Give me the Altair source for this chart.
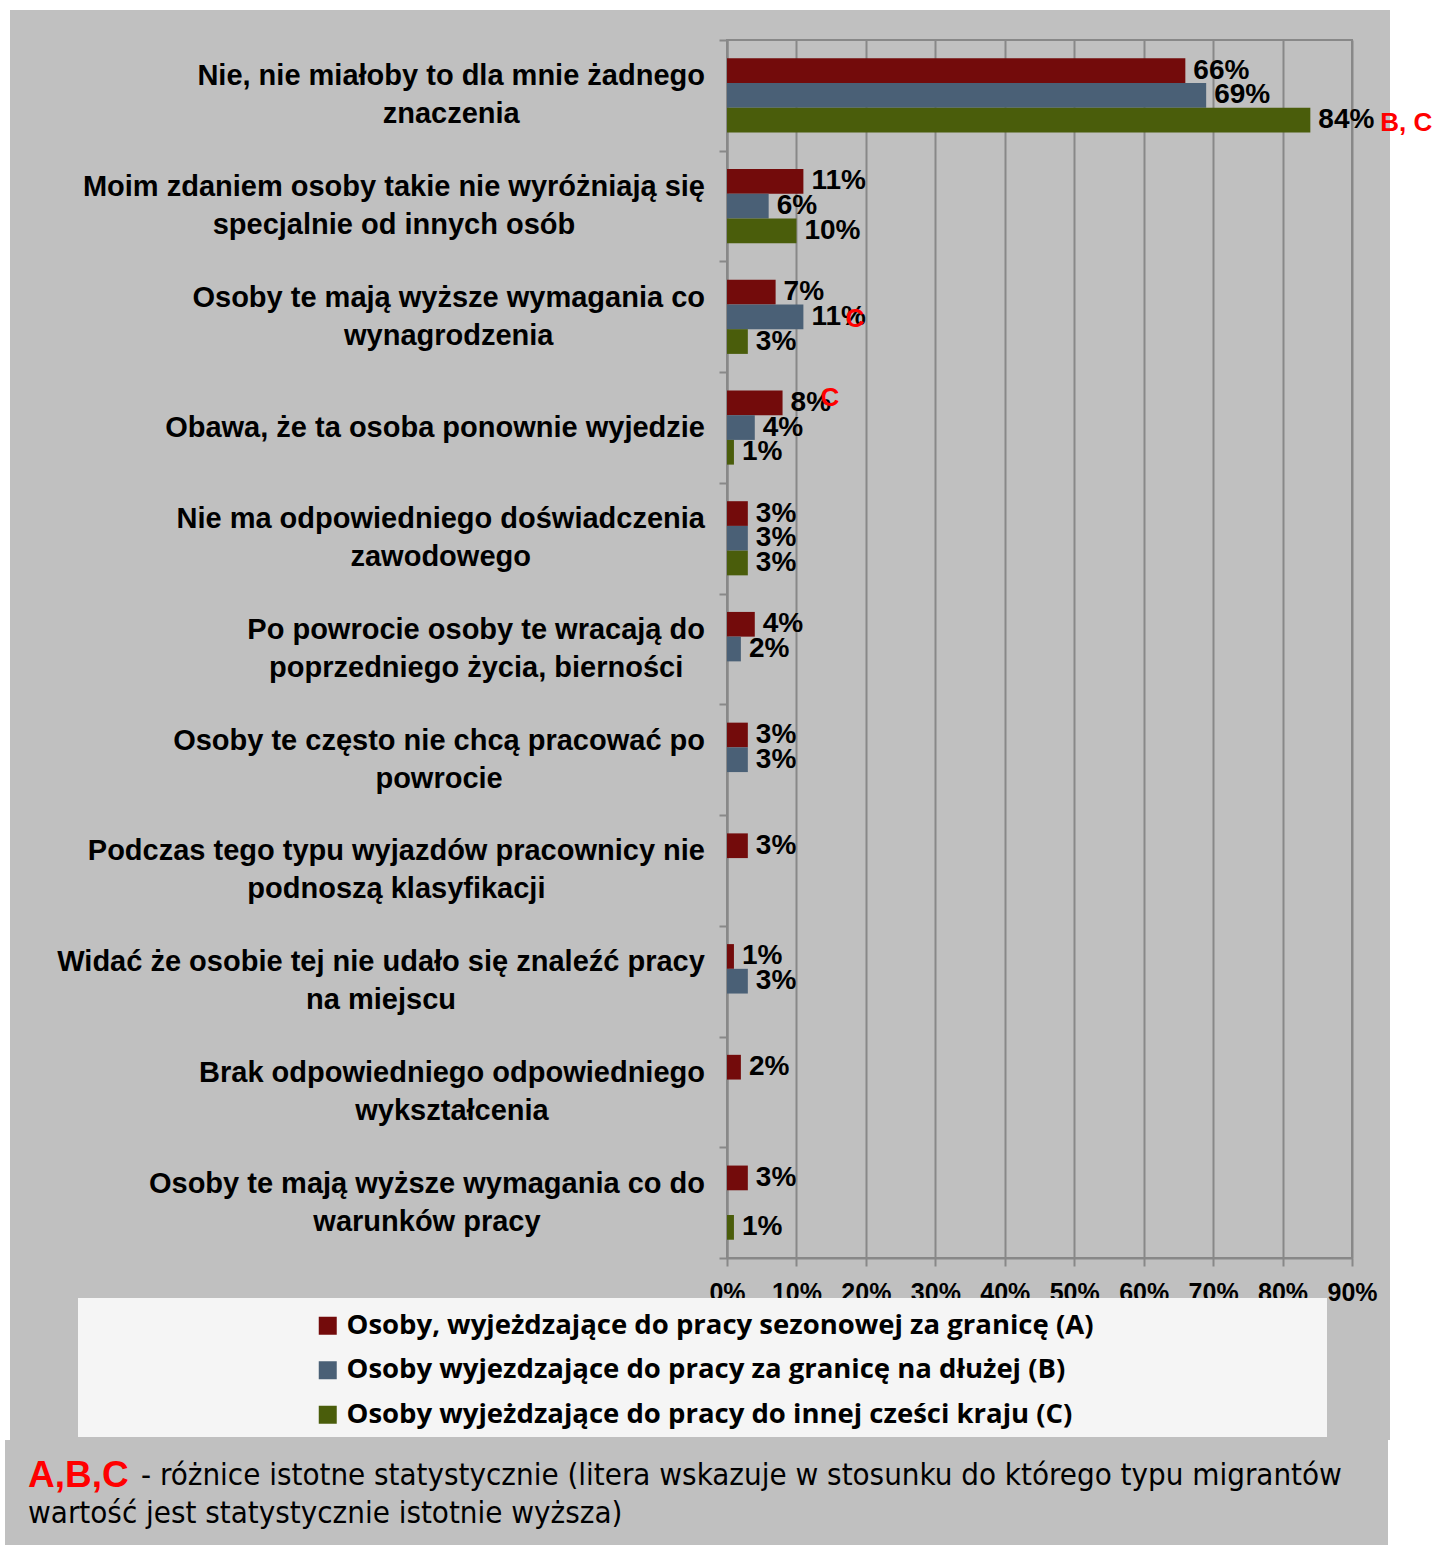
import altair as alt
import pandas as pd

categories = [
    "Nie, nie miałoby to dla mnie żadnego\nznaczenia",
    "Moim zdaniem osoby takie nie wyróżniają się\nspecjalnie od innych osób",
    "Osoby te mają wyższe wymagania co\nwynagrodzenia",
    "Obawa, że ta osoba ponownie wyjedzie",
    "Nie ma odpowiedniego doświadczenia\nzawodowego",
    "Po powrocie osoby te wracają do\npoprzedniego życia, bierności",
    "Osoby te często nie chcą pracować po\npowrocie",
    "Podczas tego typu wyjazdów pracownicy nie\npodnoszą klasyfikacji",
    "Widać że osobie tej nie udało się znaleźć pracy\nna miejscu",
    "Brak odpowiedniego odpowiedniego\nwykształcenia",
    "Osoby te mają wyższe wymagania co do\nwarunków pracy",
]
series = [
    "Osoby, wyjeżdzające do pracy sezonowej za granicę (A)",
    "Osoby wyjezdzające do pracy za granicę na dłużej (B)",
    "Osoby wyjeżdzające do pracy do innej cześci kraju (C)",
]
values_A = [66, 11, 7, 8, 3, 4, 3, 3, 1, 2, 3]
values_B = [69, 6, 11, 4, 3, 2, 3, None, 3, None, None]
values_C = [84, 10, 3, 1, 3, None, None, None, None, None, 1]
# significance annotations: (category index, series index, text)
annotations = [(0, 2, "B, C"), (2, 1, "C"), (3, 0, "C")]
x_ticks = [0, 10, 20, 30, 40, 50, 60, 70, 80, 90]
colors = ["#730b0b", "#4a6076", "#4a5d0b"]
footer_key = "A,B,C"
footer_line1 = "- różnice istotne statystycznie (litera wskazuje w stosunku do którego typu migrantów"
footer_line2 = "wartość jest statystycznie istotnie wyższa)"

# ---------------------------------------------------------------- helpers
# Arial/Liberation Sans Bold advance widths (1/1000 em) used to centre the
# multi-line category labels the way the original does.
_W = {" ": 278, ",": 278, ".": 278, "-": 333, "%": 889, "(": 333, ")": 333}
_W.update({c: 722 for c in "ABCDHKNRUw"})
_W.update({"E": 667, "F": 611, "G": 778, "I": 278, "J": 556, "L": 611, "M": 833,
           "O": 778, "P": 667, "S": 667, "T": 611, "V": 667, "W": 944, "Z": 611})
_W.update({"a": 556, "b": 611, "c": 556, "d": 611, "e": 556, "f": 333, "g": 611,
           "h": 611, "i": 278, "j": 278, "k": 556, "l": 278, "m": 889, "n": 611,
           "o": 611, "p": 611, "q": 611, "r": 389, "s": 556, "t": 333, "u": 611,
           "v": 556, "w": 778, "x": 556, "y": 556, "z": 500,
           "ą": 556, "ę": 556, "ć": 556, "ł": 278, "ń": 611, "ó": 611, "ś": 556,
           "ź": 500, "ż": 500})

LABEL_SIZE = 29
LABEL_RIGHT = -22
LINE_H = 38


def text_width(s, size):
    return max(sum(_W.get(ch, 556) for ch in line) for line in s.split("\n")) / 1000 * size


rows = []
for ci, cat in enumerate(categories):
    for si, vals in enumerate([values_A, values_B, values_C]):
        v = vals[ci]
        rows.append({"cat": cat, "series": series[si], "value": v,
                     "label": None if v is None else f"{v}%"})
df = pd.DataFrame(rows)
df_vals = df[df["value"].notna()].copy()

cat_df = pd.DataFrame({"cat": categories})
cat_df["cx"] = [LABEL_RIGHT - text_width(c, LABEL_SIZE) / 2 for c in categories]
cat_df["nlines"] = [c.count("\n") + 1 for c in categories]

ann_df = pd.DataFrame([
    {"cat": categories[c], "series": series[s], "text": t,
     "value": [values_A, values_B, values_C][s][c]}
    for c, s, t in annotations
])

W, H = 625, 1218
BOLD = "Liberation Sans"

y_enc = alt.Y("cat:N", sort=categories,
              scale=alt.Scale(domain=categories, paddingInner=0, paddingOuter=0),
              axis=alt.Axis(labels=False, title=None, ticks=True, tickBand="extent",
                            grid=False, domain=True, tickSize=8))
yoff_enc = alt.YOffset("series:N", sort=series,
                       scale=alt.Scale(domain=series, paddingInner=0, paddingOuter=0.74))
x_enc = alt.X("value:Q", scale=alt.Scale(domain=[0, 90], nice=False, zero=True),
              axis=alt.Axis(values=x_ticks, labelExpr="datum.value + '%'", grid=True,
                            title=None, labelFont=BOLD, labelFontWeight="bold",
                            labelFontSize=25, labelColor="black", labelPadding=14,
                            tickSize=8, labelFlush=False, labelOverlap=False))

one = pd.DataFrame({"d": [0]})


def box(x1, x2, y1, y2, fill):
    return alt.Chart(one).mark_rect(fill=fill, stroke=None).encode(
        x=alt.value(x1), x2=alt.value(x2), y=alt.value(y1), y2=alt.value(y2))


strips = [
    box(-727, 705, -40, -30, "white"),
    box(-727, -717, -40, 1400, "white"),
    box(-727, -722, 1400, 1505, "white"),
    box(663, 705, -40, 1400, "white"),
    box(661, 705, 1400, 1505, "white"),
]
legend_box = box(-649, 600, 1258, 1397, "#f5f5f5")

bars = alt.Chart(df_vals).mark_bar().encode(
    x=x_enc, y=y_enc, yOffset=yoff_enc,
    color=alt.Color("series:N", sort=series,
                    scale=alt.Scale(domain=series, range=colors),
                    legend=alt.Legend(orient="none", legendX=-413, legendY=1272,
                                      direction="vertical", title=None,
                                      symbolType="square", symbolSize=324,
                                      symbolStrokeWidth=0, symbolOpacity=1,
                                      labelFont="Open Sans", labelFontWeight="bold",
                                      labelFontSize=27.5, labelColor="black",
                                      labelLimit=0, labelOffset=5, rowPadding=15.5,
                                      padding=0, zindex=1)),
)

value_labels = alt.Chart(df_vals).mark_text(
    align="left", baseline="middle", dx=8, font=BOLD, fontWeight="bold",
    fontSize=28, color="black").encode(
    x="value:Q", y=alt.Y("cat:N", sort=categories), yOffset=alt.YOffset("series:N", sort=series),
    text="label:N")

ann_layers = []
for (c, s, t), dx, dy in zip(annotations, [70, 42, 38], [3, 2, -5]):
    sub = ann_df[ann_df["text"].eq(t) & ann_df["cat"].eq(categories[c])]
    ann_layers.append(alt.Chart(sub).mark_text(
        align="left", baseline="middle", dx=dx, dy=dy, font=BOLD, fontWeight="bold",
        fontSize=26, color="#ff0000").encode(
        x="value:Q", y=alt.Y("cat:N", sort=categories),
        yOffset=alt.YOffset("series:N", sort=series), text="text:N"))

cat_layers = []
for n in (1, 2):
    cat_layers.append(alt.Chart(cat_df[cat_df["nlines"] == n]).mark_text(
        align="center", baseline="middle", lineBreak="\n", lineHeight=LINE_H, font=BOLD,
        fontWeight="bold", fontSize=LABEL_SIZE, color="black",
        dy=-(n - 1) * LINE_H / 2).encode(
        x=alt.X("cx:Q", scale=None), y=alt.Y("cat:N", sort=categories), text="cat:N"))

NARROW = "Liberation Sans Narrow, DejaVu Sans Condensed, Liberation Sans"
footer = [
    alt.Chart(one).mark_text(align="left", baseline="middle", font=BOLD, fontWeight="bold",
                             fontSize=37, color="#ff0000", text=footer_key).encode(
        x=alt.value(-699), y=alt.value(1436)),
    alt.Chart(one).mark_text(align="left", baseline="middle", font=NARROW,
                             fontSize=31, color="black", text=footer_line1).encode(
        x=alt.value(-586), y=alt.value(1436)),
    alt.Chart(one).mark_text(align="left", baseline="middle", font=NARROW,
                             fontSize=31, color="black", text=footer_line2).encode(
        x=alt.value(-699), y=alt.value(1474)),
]

chart = alt.layer(
    *strips, bars, legend_box, value_labels, *ann_layers, *cat_layers, *footer
).resolve_scale(x="shared", y="shared").properties(
    width=W, height=H,
    padding={"left": 727, "top": 40, "right": 80, "bottom": 287},
    autosize=alt.AutoSizeParams(type="none"),
    background="#c0c0c0",
).configure_view(stroke="#888888", strokeWidth=2).configure_axis(
    domainColor="#888888", domainWidth=2, tickColor="#888888", tickWidth=2,
    gridColor="#888888", gridWidth=2, gridOpacity=1,
)

chart.save("out.html", embed_options={"renderer": "svg", "actions": False})
